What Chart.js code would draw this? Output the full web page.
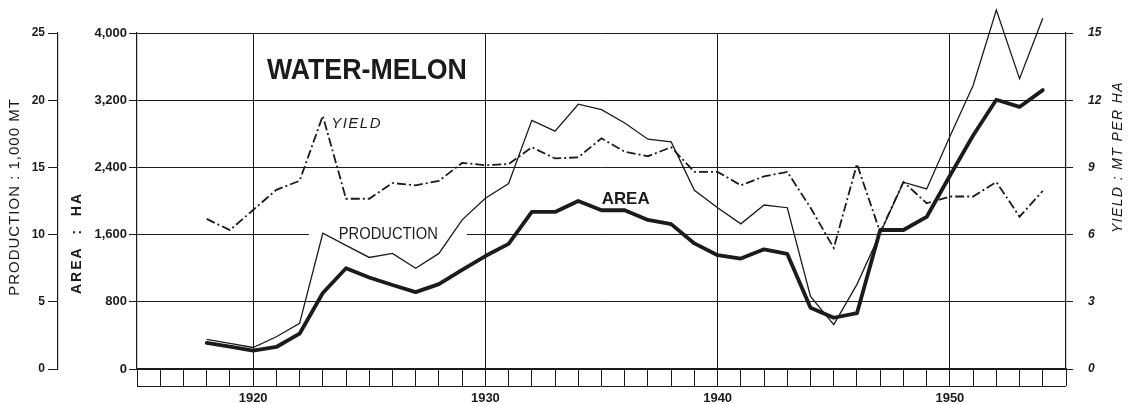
<!DOCTYPE html>
<html><head><meta charset="utf-8">
<script src="https://cdn.jsdelivr.net/npm/chart.js@4.4.1/dist/chart.umd.min.js"></script>
<style>html,body{margin:0;padding:0;background:#fff;} #wrap{width:1132px;height:404px;}</style>
</head><body><div id="wrap"><canvas id="c" width="1132" height="404"></canvas></div>
<script>
// ---- data ----
const years = [1918,1919,1920,1921,1922,1923,1924,1925,1926,1927,1928,1929,1930,1931,1932,1933,1934,1935,1936,1937,1938,1939,1940,1941,1942,1943,1944,1945,1946,1947,1948,1949,1950,1951,1952,1953,1954];
// Area, hectares
const areaHa = [310,265,220,262,420,905,1200,1090,1000,915,1010,1180,1345,1490,1870,1870,2000,1890,1890,1775,1725,1495,1355,1315,1425,1370,730,610,665,1655,1655,1810,2300,2780,3205,3120,3320];
// Production, 1,000 MT
const production = [2.2,1.9,1.6,2.4,3.4,10.1,9.2,8.3,8.6,7.5,8.6,11.1,12.7,13.8,18.5,17.7,19.7,19.3,18.3,17.1,16.9,13.3,12.0,10.8,12.2,12.0,5.4,3.3,6.3,10.1,13.9,13.4,17.3,21.1,26.7,21.6,26.1];
// Yield, MT per ha
const yieldMt = [6.7,6.2,7.1,8.0,8.4,11.3,7.6,7.6,8.3,8.2,8.4,9.2,9.1,9.15,9.9,9.4,9.45,10.3,9.7,9.5,9.9,8.8,8.8,8.2,8.6,8.8,7.2,5.4,9.15,6.1,8.35,7.4,7.7,7.7,8.35,6.8,7.95];

const areaTicks = [0,800,1600,2400,3200,4000];
const prodTicks = [0,5,10,15,20,25];
const yieldTicks = [0,3,6,9,12,15];
const yearMin = 1915, yearMax = 1955;
const decadeLabels = [1920,1930,1940,1950];

const INK = '#1b1b1b';
const FONT = '"Liberation Sans", Arial, sans-serif';

const pts = vals => years.map((y, i) => ({x: y, y: vals[i]}));
const axisYears = [];
for (let y = yearMin; y <= yearMax; y++) axisYears.push(y);

const annot = {
  id: 'annot',
  beforeDatasetsDraw(chart) {
    const {ctx, scales: {x, yArea}} = chart;
    ctx.save();
    ctx.fillStyle = '#fff';
    const yy = yArea.getPixelForValue(1600);
    const x1 = x.getPixelForValue(1922.4), x2 = x.getPixelForValue(1929.2);
    ctx.fillRect(x1, yy - 2, x2 - x1, 4);
    ctx.restore();
  },
  afterDraw(chart) {
    const {ctx, chartArea: ca, scales: {x, yArea}} = chart;
    ctx.save();
    ctx.fillStyle = INK;
    ctx.strokeStyle = INK;
    // bottom line under the year ticks
    ctx.lineWidth = 1;
    ctx.beginPath();
    ctx.moveTo(ca.left, ca.bottom + 17.5);
    ctx.lineTo(ca.right, ca.bottom + 17.5);
    ctx.stroke();

    ctx.textAlign = 'center';
    ctx.textBaseline = 'middle';
    // chart title
    ctx.font = 'bold 30px ' + FONT;
    ctx.fillText('WATER-MELON', x.getPixelForValue(1924.9), yArea.getPixelForValue(3548), 200);
    // series labels
    ctx.font = 'italic 15px ' + FONT;
    ctx.letterSpacing = '1.5px';
    ctx.textAlign = 'left';
    ctx.fillText('YIELD', x.getPixelForValue(1923.36), yArea.getPixelForValue(2917));
    ctx.letterSpacing = '0px';
    ctx.textAlign = 'center';
    ctx.font = '16px ' + FONT;
    ctx.fillText('PRODUCTION', x.getPixelForValue(1925.82), yArea.getPixelForValue(1600), 99);
    ctx.font = 'bold 17px ' + FONT;
    ctx.fillText('AREA', x.getPixelForValue(1936.04), yArea.getPixelForValue(2018), 48);

    // axis titles
    const rot = (txt, cx, cy, font, spacing) => {
      ctx.save();
      ctx.translate(cx, cy);
      ctx.rotate(-Math.PI / 2);
      ctx.font = font;
      ctx.letterSpacing = spacing;
      ctx.textAlign = 'center';
      ctx.textBaseline = 'middle';
      ctx.fillText(txt, 0, 0);
      ctx.restore();
    };
    rot('PRODUCTION : 1,000 MT', 15, 197, '15px ' + FONT, '1px');
    rot('AREA  :  HA', 77, 243, 'bold 14px ' + FONT, '2px');
    rot('YIELD : MT PER HA', 1118, 157, 'italic 14px ' + FONT, '1.4px');
    ctx.restore();
  }
};

new Chart(document.getElementById('c'), {
  type: 'line',
  data: {
    datasets: [
      {label: 'AREA', data: pts(areaHa), yAxisID: 'yArea', borderColor: INK, borderWidth: 3.8,
       borderJoinStyle: 'round', borderCapStyle: 'round', pointRadius: 0, tension: 0, clip: false},
      {label: 'PRODUCTION', data: pts(production), yAxisID: 'yProd', borderColor: INK, borderWidth: 1.3,
       pointRadius: 0, tension: 0, clip: false},
      {label: 'YIELD', data: pts(yieldMt), yAxisID: 'yYield', borderColor: INK, borderWidth: 1.8,
       borderDash: [9, 3, 2, 3], pointRadius: 0, tension: 0, clip: false}
    ]
  },
  options: {
    responsive: false,
    animation: false,
    events: [],
    layout: {padding: {top: 33, left: 0, right: 0, bottom: 0}},
    plugins: {legend: {display: false}, tooltip: {enabled: false}},
    scales: {
      x: {
        type: 'linear', min: yearMin, max: yearMax,
        afterBuildTicks: s => { s.ticks = axisYears.map(v => ({value: v})); },
        afterFit: s => { s.height = 35; },
        ticks: {autoSkip: false, maxRotation: 0, padding: 5, color: INK,
                font: {family: FONT, size: 13, weight: 'bold'},
                callback: v => decadeLabels.includes(v) ? String(v) : ''},
        grid: {color: c => (c.tick && decadeLabels.includes(c.tick.value)) ? INK : 'rgba(0,0,0,0)',
               tickColor: INK, tickLength: 17, lineWidth: 1},
        border: {display: true, color: INK, width: 1.2}
      },
      yArea: {
        type: 'linear', position: 'left', min: 0, max: 4000, weight: 0,
        afterBuildTicks: s => { s.ticks = areaTicks.map(v => ({value: v})); },
        afterFit: s => { s.width = 79; },
        ticks: {padding: 2, color: INK, font: {family: FONT, size: 13, weight: 'bold'},
                callback: v => v.toLocaleString('en-US')},
        grid: {color: INK, lineWidth: 1, tickLength: 8},
        border: {display: true, color: INK, width: 1.2}
      },
      yProd: {
        type: 'linear', position: 'left', min: 0, max: 25, weight: 1,
        afterBuildTicks: s => { s.ticks = prodTicks.map(v => ({value: v})); },
        afterFit: s => { s.width = 58; },
        ticks: {padding: 3, color: INK, font: {family: FONT, size: 12, weight: 'bold'}},
        grid: {drawOnChartArea: false, color: INK, tickLength: 10},
        border: {display: true, color: INK, width: 1.2}
      },
      yYield: {
        type: 'linear', position: 'right', min: 0, max: 15,
        afterBuildTicks: s => { s.ticks = yieldTicks.map(v => ({value: v})); },
        afterFit: s => { s.width = 66; },
        ticks: {padding: 15, color: INK, font: {family: FONT, size: 12, style: 'italic', weight: 'bold'}},
        grid: {drawOnChartArea: false, color: INK, tickLength: 7},
        border: {display: true, color: INK, width: 1.2}
      }
    }
  },
  plugins: [annot]
});
</script>
</body></html>
